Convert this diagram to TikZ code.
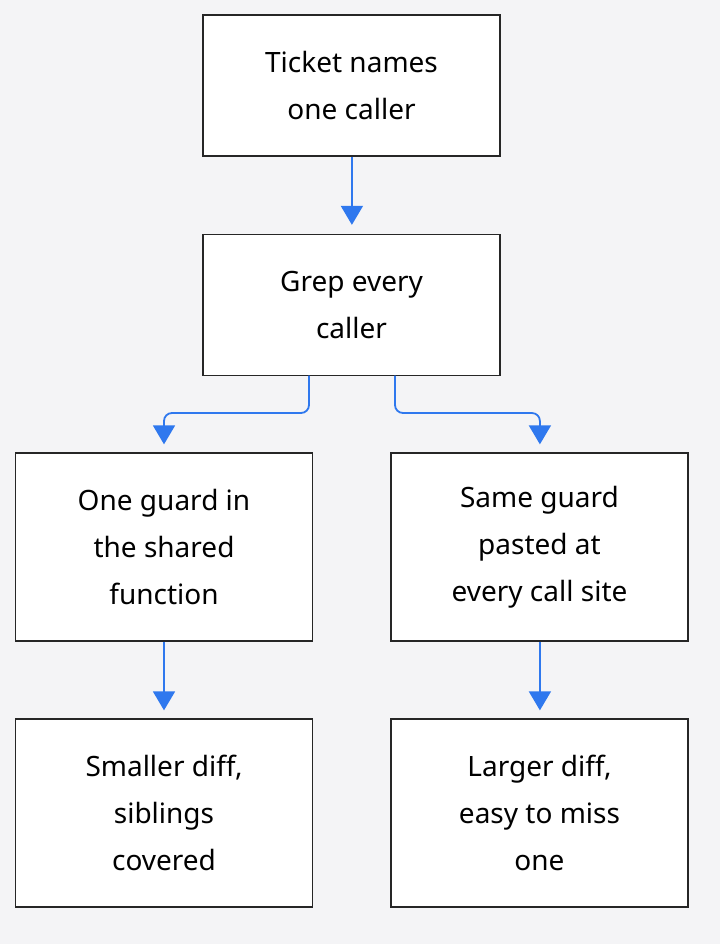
\documentclass[tikz,border=0pt]{standalone}
\usepackage{fontspec}
\setmainfont{Noto Sans}
\usetikzlibrary{arrows.meta}
\definecolor{bg}{HTML}{F4F4F6}
\definecolor{arr}{HTML}{2F78EE}
\begin{document}
\begin{tikzpicture}[x=1pt,y=-1pt,
 box/.style={draw=black!85,line width=1.3pt,fill=white,minimum width=297pt,align=center,font=\fontsize{28}{47}\selectfont,inner sep=0pt},
 ar/.style={draw=arr,line width=1.8pt,-{Triangle[width=22pt,length=19pt]},rounded corners=8pt}]
\fill[bg] (0,0) rectangle (720,944);
\useasboundingbox (0,0) rectangle (720,944);
\node[box,minimum height=141pt] (a) at (351.5,85.5) {Ticket names\\one caller};
\node[box,minimum height=141pt] (b) at (351.5,305) {Grep every\\caller};
\node[box,minimum height=188pt] (c) at (164,547) {One guard in\\the shared\\function};
\node[box,minimum height=188pt] (d) at (539.5,547) {Same guard\\pasted at\\every call site};
\node[box,minimum height=188pt] (e) at (164,813) {Smaller diff,\\siblings\\covered};
\node[box,minimum height=188pt] (f) at (539.5,813) {Larger diff,\\easy to miss\\one};
\draw[ar] ([xshift=0.4pt]a.south) -- ([xshift=0.4pt,yshift=9pt]b.north);
\draw[ar] (309,375.5) |- (200,413) -| ([yshift=8pt]c.north);
\draw[ar] (395,375.5) |- (500,413) -| ([xshift=0.4pt,yshift=8pt]d.north);
\draw[ar] (c.south) -- ([yshift=8pt]e.north);
\draw[ar] ([xshift=0.4pt]d.south) -- ([xshift=0.4pt,yshift=8pt]f.north);
\end{tikzpicture}
\end{document}
